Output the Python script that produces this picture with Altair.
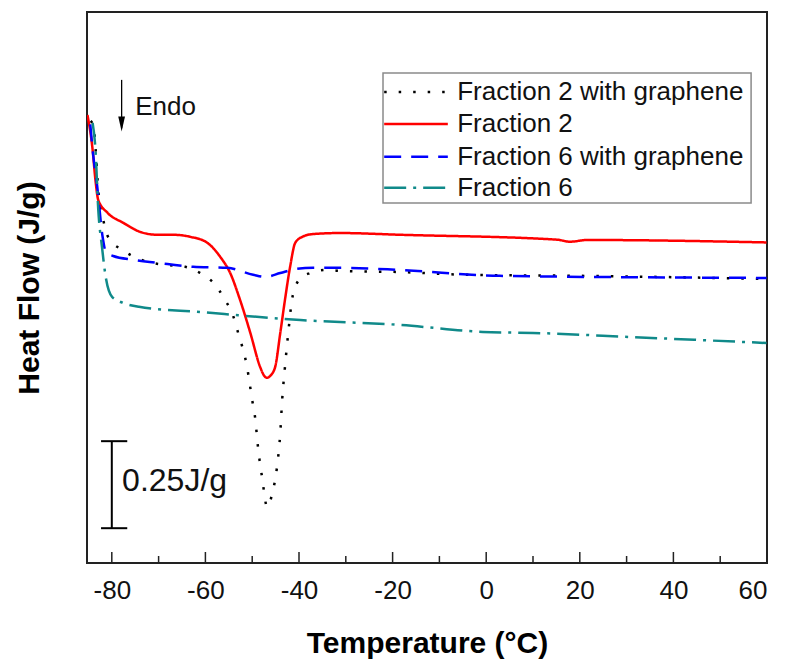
import altair as alt
import pandas as pd

# ---------------- data ----------------
series_names = ["Fraction 2 with graphene", "Fraction 2",
                "Fraction 6 with graphene", "Fraction 6"]
series_colors = ["#000000", "#ff0000", "#0000ff", "#108a8a"]
series_dashes = [[2.5, 12], [1, 0], [17, 10], [22, 7, 3, 7]]

f2g_temp = [-84.5, -83.9, -83.3, -82.9, -81.8, -80.7, -77.7, -71.3, -67.9, -64.3,
            -61.5, -58.3, -55.8, -54.0, -53.0, -51.1, -50.0, -49.4, -48.7, -47.9,
            -46.8, -45.7, -44.7, -44.0, -43.6, -43.0, -42.3, -41.5, -40.8, -39.3,
            -37.6, -34.0, -31.2, -18.4, -4.1, 20.0, 36.4, 59.9]
f2g_flow = [1.27, 1.253, 1.158, 1.072, 0.984, 0.934, 0.899, 0.862, 0.856, 0.851,
            0.836, 0.805, 0.756, 0.707, 0.661, 0.563, 0.468, 0.420, 0.325, 0.247,
            0.161, 0.201, 0.276, 0.374, 0.468, 0.563, 0.661, 0.756, 0.793, 0.822,
            0.833, 0.842, 0.839, 0.836, 0.828, 0.825, 0.822, 0.816]

f2_temp = [-85.2, -84.1, -83.5, -82.9, -80.9, -77.5, -73.9, -70.3, -66.9, -63.2,
           -59.6, -56.8, -54.7, -52.6, -50.4, -48.3, -47.4, -46.8, -46.2, -45.1,
           -44.0, -43.0, -41.9, -40.8, -39.3, -37.0, -31.2, -18.4, 15.1, 17.9,
           21.5, 59.9]
f2_flow = [1.287, 1.187, 1.101, 1.043, 1.006, 0.977, 0.951, 0.943, 0.943, 0.937,
           0.920, 0.879, 0.833, 0.756, 0.661, 0.563, 0.537, 0.532, 0.537, 0.563,
           0.661, 0.756, 0.851, 0.920, 0.937, 0.945, 0.948, 0.943, 0.929, 0.923,
           0.928, 0.921]

f6g_temp = [-84.6, -84.1, -83.1, -82.0, -81.3, -79.7, -75.4, -68.1, -62.6, -55.3,
            -49.8, -47.2, -44.0, -40.4, -37.0, -31.2, -18.4, 2.9, 59.9]
f6g_flow = [1.26, 1.187, 1.080, 0.94, 0.895, 0.882, 0.871, 0.859, 0.851, 0.848,
            0.828, 0.822, 0.833, 0.845, 0.848, 0.848, 0.842, 0.825, 0.819]

f6_temp = [-84.1, -83.5, -82.9, -82.1, -81.3, -79.9, -77.5, -74.2, -61.1, -39.7,
           -18.4, -0.7, 10.0, 31.3, 59.9]
f6_flow = [1.264, 1.190, 1.017, 0.908, 0.822, 0.764, 0.747, 0.736, 0.721, 0.698,
           0.684, 0.664, 0.661, 0.649, 0.632]

major_ticks = [-80, -60, -40, -20, 0, 20, 40, 60]
minor_ticks = [-70, -50, -30, -10, 10, 30, 50]

x_domain = [-85.3, 60.0]
y_domain = [0.0, 1.583]

# legend box (data units) and its rows
legend_box_x = [-22.05, 56.6]
legend_box_y = [1.034, 1.408]
legend_sym_x = [-21.8, -8.2]
legend_text_x = [-6.2]
legend_row_y = [1.353, 1.261, 1.167, 1.078]

# annotations: scale bar (0.25 J/g) and "Endo" arrow
scalebar_x = [-80.0]
scalebar_y = [0.10, 0.35]
scalebar_cap_x = [-82.3, -76.7]
scalebar_label = ["0.25J/g"]
scalebar_label_pos = [-77.8, 0.236]
endo_x = [-77.9]
endo_y = [1.388, 1.25]
endo_head_y = [1.261]
endo_label = ["Endo"]
endo_label_pos = [-75.0, 1.311]

FONT = "Liberation Sans"

# ---------------- build tables ----------------
rows = []
for name, temps, flows in zip(series_names,
                              [f2g_temp, f2_temp, f6g_temp, f6_temp],
                              [f2g_flow, f2_flow, f6g_flow, f6_flow]):
    for i, (t, f) in enumerate(zip(temps, flows)):
        rows.append({"series": name, "T": t, "HF": f, "order": i})
df = pd.DataFrame(rows)

xscale = alt.Scale(domain=x_domain, nice=False, zero=False)
yscale = alt.Scale(domain=y_domain, nice=False, zero=False)
cscale = alt.Scale(domain=series_names, range=series_colors)
dscale = alt.Scale(domain=series_names, range=series_dashes)

X = lambda f="T": alt.X(f"{f}:Q", scale=xscale)
Y = lambda f="HF": alt.Y(f"{f}:Q", scale=yscale)

lines = alt.Chart(df).mark_line(strokeWidth=2.5, clip=True, interpolate="monotone").encode(
    x=alt.X("T:Q", scale=xscale,
            axis=alt.Axis(values=major_ticks, ticks=False, domain=False, grid=False,
                          labelFontSize=26, labelFont=FONT, labelColor="#111111",
                          labelPadding=14, labelExpr="'' + datum.value",
                          title="Temperature (°C)", titleFontSize=30,
                          titleFont=FONT, titleFontWeight="bold",
                          titleColor="#000000", titlePadding=25)),
    y=alt.Y("HF:Q", scale=yscale,
            axis=alt.Axis(labels=False, ticks=False, domain=False, grid=False,
                          title="Heat Flow (J/g)", titleFontSize=30, titleFont=FONT,
                          titleFontWeight="bold", titleColor="#000000",
                          titlePadding=43)),
    color=alt.Color("series:N", scale=cscale, legend=None),
    strokeDash=alt.StrokeDash("series:N", scale=dscale, legend=None),
    order="order:Q",
)

major_rules = alt.Chart(pd.DataFrame({"T": major_ticks})).mark_rule(
    color="#222222", strokeWidth=1.5).encode(x=X(), y=alt.value(551), y2=alt.value(540))
minor_rules = alt.Chart(pd.DataFrame({"T": minor_ticks})).mark_rule(
    color="#222222", strokeWidth=1.5).encode(x=X(), y=alt.value(551), y2=alt.value(544))

# legend (drawn with the same colour / dash scales)
leg_box = alt.Chart(pd.DataFrame({"T": [legend_box_x[0]], "T2": [legend_box_x[1]],
                                  "HF": [legend_box_y[0]], "HF2": [legend_box_y[1]]})
                    ).mark_rect(fill="white", stroke="#8a8a8a", strokeWidth=1.5).encode(
    x=X(), x2="T2:Q", y=Y(), y2="HF2:Q")
leg_df = pd.DataFrame({"series": series_names,
                       "T": [legend_sym_x[0]] * 4, "T2": [legend_sym_x[1]] * 4,
                       "Tt": legend_text_x * 4, "HF": legend_row_y})
leg_sym = alt.Chart(leg_df).mark_rule(strokeWidth=2.5).encode(
    x=X(), x2="T2:Q", y=Y(),
    color=alt.Color("series:N", scale=cscale, legend=None),
    strokeDash=alt.StrokeDash("series:N", scale=dscale, legend=None))
leg_txt = alt.Chart(leg_df).mark_text(align="left", baseline="middle", fontSize=26,
                                      font=FONT, color="#111111").encode(
    x=X("Tt"), y=Y(), text="series:N")

sb_v = alt.Chart(pd.DataFrame({"T": scalebar_x, "HF": [scalebar_y[0]], "HF2": [scalebar_y[1]]})
                 ).mark_rule(color="#000000", strokeWidth=2).encode(x=X(), y=Y(), y2="HF2:Q")
sb_caps = alt.Chart(pd.DataFrame({"T": [scalebar_cap_x[0]] * 2, "T2": [scalebar_cap_x[1]] * 2,
                                  "HF": scalebar_y})
                    ).mark_rule(color="#000000", strokeWidth=2).encode(x=X(), x2="T2:Q", y=Y())
sb_text = alt.Chart(pd.DataFrame({"T": [scalebar_label_pos[0]], "HF": [scalebar_label_pos[1]],
                                  "t": scalebar_label})
                    ).mark_text(align="left", baseline="middle", fontSize=32, font=FONT,
                                color="#111111").encode(x=X(), y=Y(), text="t:N")

endo_line = alt.Chart(pd.DataFrame({"T": endo_x, "HF": [endo_y[0]], "HF2": [endo_y[1]]})
                      ).mark_rule(color="#000000", strokeWidth=1.3).encode(
    x=X(), y=Y(), y2="HF2:Q")
endo_head = alt.Chart(pd.DataFrame({"T": endo_x, "HF": endo_head_y})
                      ).mark_point(shape="M-0.45,-1L0.45,-1L0,1Z", size=225, filled=True,
                                   color="#000000", opacity=1).encode(x=X(), y=Y())
endo_text = alt.Chart(pd.DataFrame({"T": [endo_label_pos[0]], "HF": [endo_label_pos[1]],
                                    "t": endo_label})
                      ).mark_text(align="left", baseline="middle", fontSize=26, font=FONT,
                                  color="#111111").encode(x=X(), y=Y(), text="t:N")

chart = alt.layer(
    lines, major_rules, minor_rules, sb_v, sb_caps, sb_text,
    endo_line, endo_head, endo_text, leg_box, leg_sym, leg_txt
).properties(
    width=680, height=551,
    autosize=alt.AutoSizeParams(type="none"),
    padding={"left": 87, "top": 12, "right": 21, "bottom": 103},
).configure(
    font=FONT, background="white"
).configure_view(
    stroke="#222222", strokeWidth=2
)

chart.save("out.html", embed_options={"renderer": "svg", "actions": False})
